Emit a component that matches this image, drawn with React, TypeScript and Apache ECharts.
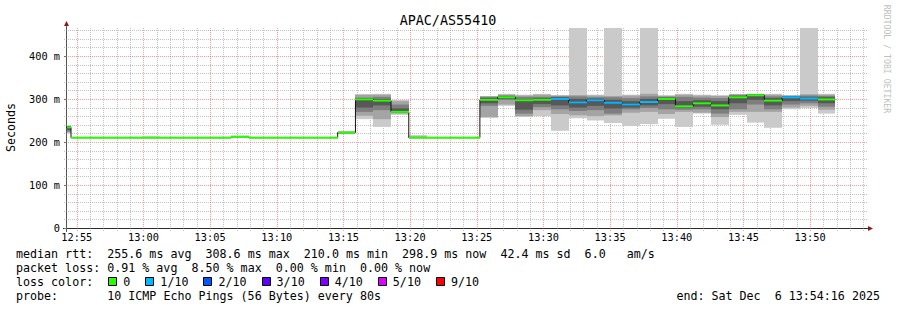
import React, { useEffect, useRef } from 'react';
import * as echarts from 'echarts';

// ---- time frame (seconds since midnight) ----
const axisStart = 46456; // 12:54:16
const axisEnd = 50056; // 13:54:16
const firstStepStart = 46394; // 12:53:14 (first probe column, partly hidden)
const stepSeconds = 80;

// ---- median rtt per probe column (ms) ----
const medians = [
  234,
  210, 210, 210, 210, 210, 210, 210, 210, 210, 212, 210, 210, 210, 210, 210,
  222, 299, 296, 270, 210, 210, 210, 210,
  298, 304, 297, 298, 300, 292, 297, 291, 287, 293,
  300, 283, 290, 285, 304, 308.6, 296, 304, 301, 299,
];

// ---- lost pings (of 10) per column ----
const losses = [
  0,
  0, 0, 0, 0, 0, 0, 0, 0, 0, 0, 0, 0, 0, 0, 0,
  0, 0, 0, 0, 0, 0, 0, 0,
  0, 0, 0, 0, 1, 1, 1, 1, 1, 1,
  0, 0, 0, 0, 0, 0, 0, 1, 1, 0,
];

// ---- sorted ping rtts per column (ms) ----
const pings = [
  [220, 222, 225, 228, 232, 236, 236.5, 237, 237.5, 238],
  [209.6, 209.7, 209.8, 209.9, 210, 210, 210.1, 210.2, 210.3, 210.5],
  [209.6, 209.7, 209.8, 209.9, 210, 210, 210.1, 210.2, 210.3, 210.5],
  [209.6, 209.7, 209.8, 209.9, 210, 210, 210.1, 210.2, 210.3, 210.5],
  [209.6, 209.7, 209.8, 209.9, 210, 210, 210.1, 210.2, 210.3, 210.5],
  [209.6, 209.7, 209.8, 209.9, 210, 210, 210.1, 210.2, 210.3, 213.5],
  [209.6, 209.7, 209.8, 209.9, 210, 210, 210.1, 210.2, 210.3, 210.5],
  [209.6, 209.7, 209.8, 209.9, 210, 210, 210.1, 210.2, 210.3, 210.5],
  [209.6, 209.7, 209.8, 209.9, 210, 210, 210.1, 210.2, 210.3, 210.5],
  [209.6, 209.7, 209.8, 209.9, 210, 210, 210.1, 210.2, 210.3, 210.5],
  [210.5, 211, 211.5, 211.8, 212, 212, 212.3, 212.6, 213, 215],
  [209.6, 209.7, 209.8, 209.9, 210, 210, 210.1, 210.2, 210.3, 210.5],
  [209.6, 209.7, 209.8, 209.9, 210, 210, 210.1, 210.2, 210.3, 210.5],
  [209.6, 209.7, 209.8, 209.9, 210, 210, 210.1, 210.2, 210.3, 210.5],
  [209.6, 209.7, 209.8, 209.9, 210, 210, 210.1, 210.2, 210.3, 210.5],
  [209.6, 209.7, 209.8, 209.9, 210, 210, 210.1, 210.2, 210.3, 210.5],
  [218, 219, 220, 221, 221.5, 222.5, 223, 223.5, 224, 225],
  [253, 261, 270, 280, 297, 300, 302, 303, 310, 311],
  [235, 253, 274, 285, 294, 298, 300, 305, 310, 312],
  [263, 266, 268, 269, 269.5, 270.5, 278, 287, 295, 298],
  [209.6, 209.7, 209.8, 209.9, 210, 210, 210.2, 211, 213, 216],
  [209.6, 209.7, 209.8, 209.9, 210, 210, 210.1, 210.2, 210.3, 210.5],
  [209.6, 209.7, 209.8, 209.9, 210, 210, 210.1, 210.2, 210.3, 210.5],
  [209.6, 209.7, 209.8, 209.9, 210, 210, 210.1, 210.2, 210.3, 210.5],
  [256, 258, 284, 290, 297, 299, 302, 305, 306, 307],
  [284, 287, 298, 300, 303, 305, 306, 308, 310, 312],
  [258, 260, 266, 275, 295, 299, 300, 305, 308, 310],
  [260, 274, 281, 288, 297, 299, 302, 305, 310, 312],
  [226, 265, 276, 285, 298, 302, 304, 306, 308, 309],
  [255, 262, 272, 280, 290, 294, 300, 306, 309, 600],
  [250, 260, 274, 284, 295, 299, 301, 304, 308, 310],
  [244, 262, 266, 278, 289, 293, 298, 304, 307, 600],
  [237, 268, 276, 280, 285, 289, 295, 302, 308, 310],
  [242, 270, 279, 285, 291, 295, 300, 306, 312, 600],
  [254, 265, 276, 288, 299, 301, 303, 305, 307, 309],
  [235, 270, 275, 280, 282, 284, 295, 305, 310, 312],
  [266, 268, 276, 282, 289, 291, 297, 303, 308, 310],
  [240, 258, 266, 276, 284, 286, 295, 302, 307, 309],
  [263, 270, 276, 290, 303, 305, 307, 309, 311, 312],
  [245, 270, 287, 298, 308, 309.2, 310, 311, 311.5, 312],
  [233, 270, 276, 285, 295, 297, 302, 306, 310, 312],
  [276, 280, 287, 295, 303, 305, 306, 307, 308, 309],
  [279, 284, 290, 296, 300, 302, 305, 308, 311, 600],
  [266, 275, 282, 290, 298, 300, 304, 307, 310, 312],
];

// ---- axes ----
const xTickLabels = ['12:55', '13:00', '13:05', '13:10', '13:15', '13:20', '13:25', '13:30', '13:35', '13:40', '13:45', '13:50'];
const yTickValues = [0, 100, 200, 300, 400];
const yTickLabels = ['0', '100 m', '200 m', '300 m', '400 m'];
const yMax = 465;

// ---- legend ----
const title = 'APAC/AS55410';
const yAxisName = 'Seconds';
const watermark = 'RRDTOOL / TOBI OETIKER';
const statLines = [
  'median rtt:  255.6 ms avg  308.6 ms max  210.0 ms min  298.9 ms now  42.4 ms sd  6.0   am/s',
  'packet loss: 0.91 % avg  8.50 % max  0.00 % min  0.00 % now',
  'loss color:',
  'probe:       10 ICMP Echo Pings (56 Bytes) every 80s',
];
const lossLabels = ['0', '1/10', '2/10', '3/10', '4/10', '5/10', '9/10'];
const lossLegendColors = ['#26ff00', '#00b8ff', '#0059ff', '#5e00ff', '#7e00ff', '#dd00ff', '#ff0000'];
const lossColorByCount = ['#26ff00', '#00b8ff', '#0059ff', '#5e00ff', '#7e00ff', '#dd00ff', '#dd00ff', '#dd00ff', '#dd00ff', '#ff0000', '#ff0000'];
const endText = 'end: Sat Dec  6 13:54:16 2025';

const smokeColors = ['#cacaca', '#a4a4a4', '#7e7e7e', '#585858', '#323232'];

const MONO = '"DejaVu Sans Mono", monospace';

const toSec = (s: string) => {
  const [h, m] = s.split(':').map(Number);
  return h * 3600 + m * 60;
};
const fmtTime = (v: number) => {
  const h = Math.floor(v / 3600);
  const m = Math.floor((v % 3600) / 60);
  return `${String(h).padStart(2, '0')}:${String(m).padStart(2, '0')}`;
};

export default function App() {
  const ref = useRef<HTMLDivElement>(null);

  useEffect(() => {
    if (!ref.current) return;
    const chart = echarts.init(ref.current, undefined, { renderer: 'svg' });

    const gridL = 67, gridT = 28, gridW = 800, gridH = 200;
    const xLabelValues = xTickLabels.map(toSec);

    // build smoke rectangles and median bands
    const smoke: number[][] = [];
    const medBands: number[][] = [];
    const medLine: number[][] = [];
    const halfBand = yMax / gridH; // one pixel in ms
    pings.forEach((p, i) => {
      const s = firstStepStart + i * stepSeconds;
      const e = s + stepSeconds;
      for (let b = 0; b < 5; b++) smoke.push([s, e, p[b], p[9 - b], b]);
      medBands.push([s, e, medians[i] - halfBand, medians[i] + halfBand, losses[i]]);
      medLine.push([s, medians[i]]);
      if (i === pings.length - 1) medLine.push([e, medians[i]]);
    });

    // grid line positions
    const vMinor: number[][] = [];
    const vMajor: number[][] = [];
    for (let t = Math.ceil(axisStart / 60) * 60; t < axisEnd; t += 60) {
      if (t % 300 === 0) vMajor.push([t, 0]);
      else vMinor.push([t, 0]);
    }
    const hMinor: number[][] = [];
    const hMajor: number[][] = [];
    for (let v = 20; v < yMax; v += 20) {
      if (v % 100 === 0) hMajor.push([axisStart, v]);
      else hMinor.push([axisStart, v]);
    }

    const clipTo = (params: any, r: any) => {
      const cs = params.coordSys;
      return echarts.graphic.clipRectByRect(r, { x: cs.x, y: cs.y, width: cs.width, height: cs.height });
    };

    const rectRender = (colorOf: (v: number) => string) => (params: any, api: any) => {
      const a = api.coord([api.value(0), api.value(3)]);
      const b = api.coord([api.value(1), api.value(2)]);
      const x0 = Math.round(a[0]);
      const x1 = Math.round(b[0]);
      const shape = clipTo(params, { x: x0, y: a[1], width: x1 - x0, height: b[1] - a[1] });
      if (!shape) return null;
      return { type: 'rect', shape, style: { fill: colorOf(api.value(4)) } };
    };

    const gridRender = (vertical: boolean, stroke: string) => (params: any, api: any) => {
      const cs = params.coordSys;
      const pt = api.coord([api.value(0), api.value(1)]);
      let shape;
      if (vertical) {
        const x = Math.round(pt[0]) + 0.5;
        shape = { x1: x, y1: cs.y, x2: x, y2: cs.y + cs.height + 3 };
      } else {
        const y = Math.round(pt[1]) + 0.5;
        shape = { x1: cs.x - 3, y1: y, x2: cs.x + cs.width, y2: y };
      }
      return { type: 'line', shape, style: { stroke, lineWidth: 1, lineDash: [1, 1] } };
    };

    const minorColor = 'rgba(130,130,130,0.48)';
    const majorColor = 'rgba(230,40,40,0.45)';
    const gridSeries = (name: string, vertical: boolean, stroke: string, data: number[][]) => ({
      type: 'custom',
      name,
      silent: true,
      z: 1,
      renderItem: gridRender(vertical, stroke),
      encode: { x: 0, y: 1 },
      data,
    });

    // legend graphics
    const charW = 7.02;
    const legendX = 16;
    const lineY = [254, 268, 282, 296];
    const graphics: any[] = [];
    const textEl = (text: string, x: number, y: number, extra: any = {}) => ({
      type: 'text',
      x,
      y,
      silent: true,
      style: {
        text,
        font: `11.66px ${MONO}`,
        fill: '#000',
        textAlign: 'left',
        textVerticalAlign: 'middle',
        align: 'left',
        verticalAlign: 'middle',
        ...extra,
      },
    });
    const pushSpaced = (line: string, x0: number, y: number) => {
      const re = /\S+(?: \S+)*/g;
      let m: RegExpExecArray | null;
      while ((m = re.exec(line))) {
        graphics.push(textEl(m[0], x0 + m.index * charW, y));
      }
    };
    statLines.forEach((l, i) => pushSpaced(l, legendX, lineY[i]));
    let bx = 108.3;
    lossLabels.forEach((lab, i) => {
      graphics.push({
        type: 'rect',
        silent: true,
        shape: { x: Math.round(bx) + 0.5, y: 277.5, width: 8, height: 8 },
        style: { fill: lossLegendColors[i], stroke: '#000', lineWidth: 1 },
      });
      graphics.push(textEl(lab, bx + 15, lineY[2]));
      bx += 16 + (lab.length + 2) * charW;
    });
    pushSpaced(endText, 880 - endText.length * charW, lineY[3]);

    // title, axis name, watermark
    graphics.push(textEl(title, 448, 20, { font: `13.4px ${MONO}`, textAlign: 'center', align: 'center' }));
    graphics.push({
      type: 'text', x: 11, y: 127.5, rotation: Math.PI / 2, silent: true,
      style: { text: yAxisName, font: `11.66px ${MONO}`, fill: '#000', textAlign: 'center', align: 'center', textVerticalAlign: 'middle', verticalAlign: 'middle' },
    });
    graphics.push({
      type: 'text', x: 887, y: 59, rotation: -Math.PI / 2, silent: true,
      style: { text: watermark, font: `8.2px ${MONO}`, fill: '#c0c0c0', textAlign: 'center', align: 'center', textVerticalAlign: 'middle', verticalAlign: 'middle' },
    });

    // axis lines and arrows
    const axisColor = '#2a2a2a';
    const arrowColor = '#8b1a1a';
    graphics.push({ type: 'line', silent: true, shape: { x1: gridL - 0.5, y1: gridT + gridH + 4, x2: gridL - 0.5, y2: gridT - 4 }, style: { stroke: '#555', lineWidth: 1 } });
    graphics.push({ type: 'line', silent: true, shape: { x1: gridL - 4, y1: gridT + gridH + 0.5, x2: gridL + gridW + 2, y2: gridT + gridH + 0.5 }, style: { stroke: axisColor, lineWidth: 1 } });
    graphics.push({ type: 'polygon', silent: true, shape: { points: [[gridL - 3, gridT - 2], [gridL + 2, gridT - 2], [gridL - 0.5, gridT - 7]] }, style: { fill: arrowColor } });
    graphics.push({ type: 'polygon', silent: true, shape: { points: [[gridL + gridW + 1, gridT + gridH - 2], [gridL + gridW + 1, gridT + gridH + 3], [gridL + gridW + 6, gridT + gridH + 0.5]] }, style: { fill: arrowColor } });

    chart.setOption({
      animation: false,
      backgroundColor: '#fff',
      grid: { left: gridL, top: gridT, width: gridW, height: gridH, containLabel: false },
      xAxis: {
        type: 'value',
        min: axisStart,
        max: axisEnd,
        axisLine: { show: false },
        splitLine: { show: false },
        axisTick: { show: false },
        axisLabel: {
          customValues: xLabelValues,
          formatter: (v: number) => fmtTime(v),
          fontFamily: MONO,
          fontSize: 10.3,
          color: '#000',
          margin: 4,
        },
      },
      yAxis: {
        type: 'value',
        min: 0,
        max: yMax,
        axisLine: { show: false },
        splitLine: { show: false },
        axisTick: { show: true, customValues: yTickValues, length: 3, lineStyle: { color: '#777' } },
        axisLabel: {
          customValues: yTickValues,
          formatter: (v: number) => yTickLabels[yTickValues.indexOf(v)] ?? '',
          fontFamily: MONO,
          fontSize: 10.3,
          color: '#000',
          margin: 7,
        },
      },
      graphic: graphics,
      series: [
        gridSeries('vMinor', true, minorColor, vMinor),
        gridSeries('hMinor', false, minorColor, hMinor),
        gridSeries('vMajor', true, majorColor, vMajor),
        gridSeries('hMajor', false, majorColor, hMajor),
        {
          type: 'custom',
          name: 'smoke',
          silent: true,
          z: 2,
          renderItem: rectRender((b) => smokeColors[b]),
          encode: { x: [0, 1], y: [2, 3] },
          data: smoke,
        },
        {
          type: 'line',
          name: 'median',
          silent: true,
          z: 3,
          step: 'end',
          showSymbol: false,
          symbol: 'none',
          clip: true,
          lineStyle: { color: '#111', width: 1 },
          data: medLine,
        },
        {
          type: 'custom',
          name: 'loss',
          silent: true,
          z: 4,
          renderItem: rectRender((l) => lossColorByCount[l]),
          encode: { x: [0, 1], y: [2, 3] },
          data: medBands,
        },
      ],
    });

    return () => chart.dispose();
  }, []);

  return <div ref={ref} style={{ position: 'absolute', left: 0, top: 0, width: 897, height: 310 }} />;
}
